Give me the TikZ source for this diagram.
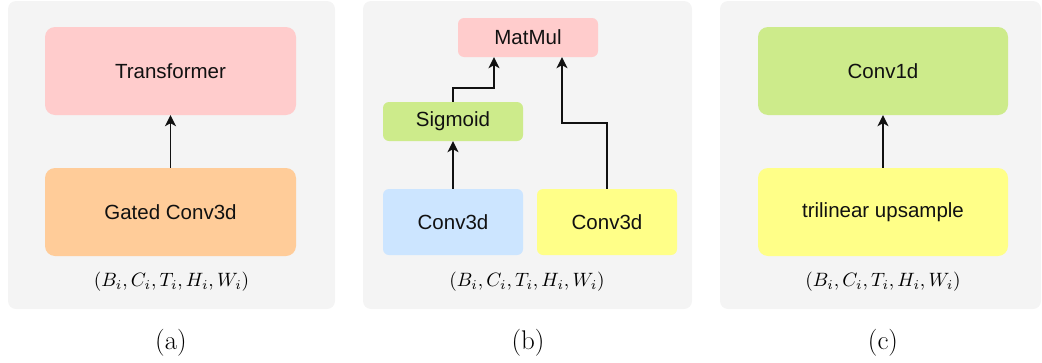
\documentclass[tikz,border=0pt]{standalone}
\usepackage{graphicx}
\usepackage{fontspec}
\newfontfamily\boxfont{Liberation Sans}
\usetikzlibrary{arrows.meta}
\definecolor{bgpanel}{HTML}{F4F4F4}
\definecolor{cpink}{HTML}{FFCCCC}
\definecolor{corange}{HTML}{FFCC99}
\definecolor{cgreen}{HTML}{CDEB8B}
\definecolor{cblue}{HTML}{CCE5FF}
\definecolor{cyellow}{HTML}{FFFF88}
\definecolor{txt}{HTML}{111111}
\newcommand{\shapelbl}{\scalebox{1.93}{$(B_i,C_i,T_i,H_i,W_i)$}}
\tikzset{
  panel/.style={fill=bgpanel, draw=none, rounded corners=8pt},
  bigbox/.style={draw=none, rounded corners=10pt, minimum width=251pt, minimum height=88pt, font=\boxfont\fontsize{20.5}{24}\selectfont, text=txt, inner sep=0pt},
  smallbox/.style={draw=none, rounded corners=6pt, minimum width=140pt, font=\boxfont\fontsize{20.5}{24}\selectfont, text=txt, inner sep=0pt},
  arr/.style={line width=1.3pt, draw=txt, -{Stealth[length=11pt,width=11pt,inset=3pt]}},
  mathlbl/.style={inner sep=0pt},
  caplbl/.style={font=\fontsize{27}{32}\selectfont, inner sep=0pt}
}
\begin{document}
\begin{tikzpicture}[x=1pt,y=-1pt]
\useasboundingbox (0,0) rectangle (1042,362);
% panels
\fill[panel] (8,1) rectangle (335,309);
\fill[panel] (363,1) rectangle (692,309);
\fill[panel] (720,1) rectangle (1041,309);
% (a)
\node[bigbox, fill=cpink] (tr) at (170.5,71) {Transformer};
\node[bigbox, fill=corange] (gc) at (170.5,212) {Gated Conv3d};
\draw[arr] (gc.north) -- (tr.south);
\node[mathlbl] (ma) at (171.5,282) {\shapelbl};
\node[caplbl] (ca) at (171,343) {(a)};
% (b)
\node[smallbox, fill=cpink, minimum height=39pt] (mm) at (528,37.5) {MatMul};
\node[smallbox, fill=cgreen, minimum height=39pt] (sg) at (453,121.5) {Sigmoid};
\node[smallbox, fill=cblue, minimum height=66pt] (c3a) at (453,222) {Conv3d};
\node[smallbox, fill=cyellow, minimum height=66pt] (c3b) at (607,222) {Conv3d};
\draw[arr] (c3a.north) -- (sg.south);
\draw[arr] (sg.north) -- (sg.north |- 0,88) -| ([xshift=-34pt]mm.south);
\draw[arr] (c3b.north) -- (c3b.north |- 0,123) -| ([xshift=34pt]mm.south);
\node[mathlbl] (mb) at (527,282) {\shapelbl};
\node[caplbl] (cb) at (528,343) {(b)};
% (c)
\node[bigbox, fill=cgreen, minimum width=250pt] (c1) at (883,71) {Conv1d};
\node[bigbox, fill=cyellow, minimum width=250pt] (tu) at (883,212) {trilinear upsample};
\draw[arr] (tu.north) -- (c1.south);
\node[mathlbl] (mc) at (883,282) {\shapelbl};
\node[caplbl] (cc) at (883,343) {(c)};
\end{tikzpicture}
\end{document}
